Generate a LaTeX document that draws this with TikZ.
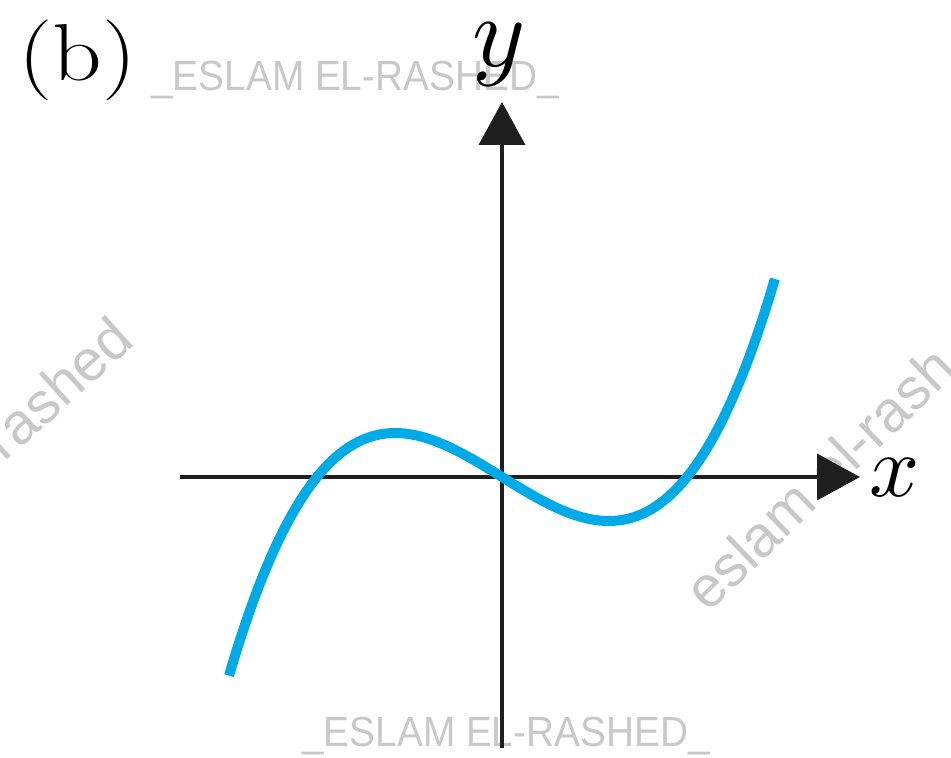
\documentclass[tikz,border=0pt]{standalone}
\usepackage{fontspec}
\newfontfamily\wmfont{Liberation Sans}
\usetikzlibrary{arrows.meta}
\definecolor{curveblue}{RGB}{0,170,230}
\definecolor{axisgray}{RGB}{30,30,30}
\definecolor{wmgray}{RGB}{200,200,200}
\tikzset{
  axis/.style={line width=2.2pt, draw=axisgray, -{Triangle[length=0.86cm,width=0.92cm]}},
  wm/.style={text=wmgray, font=\wmfont\fontsize{24}{24}\selectfont, inner sep=0pt},
  wmr/.style={text=wmgray, font=\wmfont\fontsize{33}{33}\selectfont, inner sep=0pt},
  lbl/.style={inner sep=0pt, scale=5},
}
\begin{document}
\begin{tikzpicture}[x=0.02cm,y=-0.02cm]
\useasboundingbox (0,0) rectangle (951,758);
% watermarks
\node[wm, anchor=center, xscale=0.92] (wm1) at (355,80) {\_ESLAM EL-RASHED\_};
\node[wm, anchor=center, xscale=0.92] (wm2) at (506,736) {\_ESLAM EL-RASHED\_};
\node[wmr, anchor=center, rotate=42] (wm3) at (57,388) {rashed};
\node[wmr, anchor=base west, rotate=44] (wm4) at (708,614) {eslam el-rash};
% axes
\coordinate (xs) at (180,477);
\coordinate (xe) at (860,477);
\coordinate (ys) at (502,748);
\coordinate (ye) at (502,102);
\draw[axis] (xs) -- (xe);
\draw[axis] (ys) -- (ye);
% labels
\node[lbl, anchor=base, scale=1.15] (yl) at (499,66) {$y$};
\node[lbl, anchor=base west] (xl) at (868,496) {$x$};
\node[inner sep=0pt, anchor=base west, xscale=1.2, font=\fontsize{46}{46}\selectfont] (b) at (18,80) {(b)};
% curve
\draw[curveblue, line width=0.2cm] plot[domain=-2.73:2.73, samples=120, smooth]
  ({502+100*\x},{477-18.05*\x*(\x*\x-3.4225)});
\end{tikzpicture}
\end{document}
